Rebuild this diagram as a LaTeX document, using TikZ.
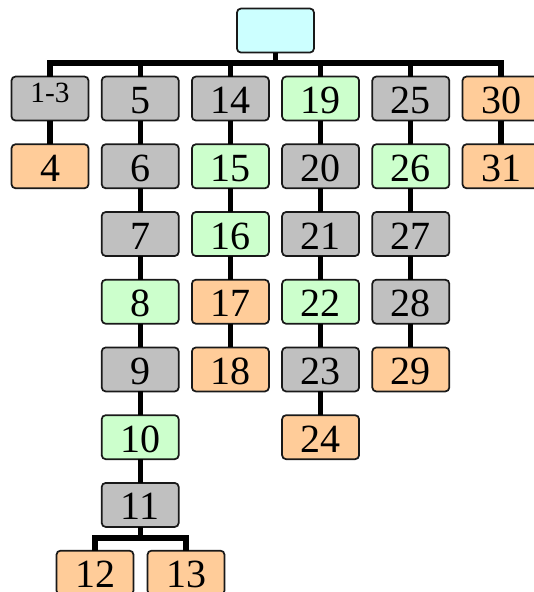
\documentclass[tikz,border=0pt]{standalone}
\usepackage{fontspec}
\setmainfont{Liberation Serif}
\usetikzlibrary{positioning}
\definecolor{boxGray}{RGB}{192,192,192}
\definecolor{boxGreen}{RGB}{204,255,204}
\definecolor{boxOrange}{RGB}{255,204,153}
\definecolor{boxCyan}{RGB}{204,255,255}

\begin{document}
\begin{tikzpicture}[node distance=17.8pt and 9.9pt,
  box/.style={draw=black!90,line width=1.3pt,rounded corners=3pt,minimum width=57.75pt,minimum height=33pt,inner sep=0pt,outer sep=0pt,font=\fontsize{30}{30}\selectfont,text height=22.5pt,text depth=0pt},
  gbox/.style={box,fill=boxGray},
  lbox/.style={box,fill=boxGreen},
  obox/.style={box,fill=boxOrange},
  cbox/.style={box,fill=boxCyan},
  link/.style={line width=4pt}]
\useasboundingbox (0,0) rectangle (400.5pt,-444pt);
% root
\node[cbox] (top) at (206.6pt,-22.9pt) {};
% first row
\node[gbox,font=\fontsize{22}{22}\selectfont,text height=16pt,text depth=10pt] (n1to3) at (37.5pt,-73.9pt) {1-3};
\node[gbox,right=of n1to3] (n5) {5};
\node[gbox,right=of n5] (n14) {14};
\node[lbox,right=of n14] (n19) {19};
\node[gbox,right=of n19] (n25) {25};
\node[obox,right=of n25] (n30) {30};
% columns
\node[obox,below=of n1to3] (n4) {4};
\node[gbox,below=of n5] (n6) {6};
\node[gbox,below=of n6] (n7) {7};
\node[lbox,below=of n7] (n8) {8};
\node[gbox,below=of n8] (n9) {9};
\node[lbox,below=of n9] (n10) {10};
\node[gbox,below=of n10] (n11) {11};
\node[obox,below=of n11,xshift=-33.9pt] (n12) {12};
\node[obox,right=10.5pt of n12] (n13) {13};
\node[lbox,below=of n14] (n15) {15};
\node[lbox,below=of n15] (n16) {16};
\node[obox,below=of n16] (n17) {17};
\node[obox,below=of n17] (n18) {18};
\node[gbox,below=of n19] (n20) {20};
\node[gbox,below=of n20] (n21) {21};
\node[lbox,below=of n21] (n22) {22};
\node[gbox,below=of n22] (n23) {23};
\node[obox,below=of n23] (n24) {24};
\node[lbox,below=of n25] (n26) {26};
\node[gbox,below=of n26] (n27) {27};
\node[gbox,below=of n27] (n28) {28};
\node[obox,below=of n28] (n29) {29};
\node[obox,below=of n30] (n31) {31};
% connectors
\foreach \c in {n1to3,n5,n14,n19,n25,n30}
  \draw[link] (top.south) -- ++(0,-7.85pt) -| (\c.north);
\foreach \a/\b in {n1to3/n4,n5/n6,n6/n7,n7/n8,n8/n9,n9/n10,n10/n11,n14/n15,n15/n16,n16/n17,n17/n18,n19/n20,n20/n21,n21/n22,n22/n23,n23/n24,n25/n26,n26/n27,n27/n28,n28/n29,n30/n31}
  \draw[link] (\a.south) -- (\b.north);
\foreach \c in {n12,n13}
  \draw[link] (n11.south) -- ++(0,-8.25pt) -| (\c.north);
\end{tikzpicture}
\end{document}
